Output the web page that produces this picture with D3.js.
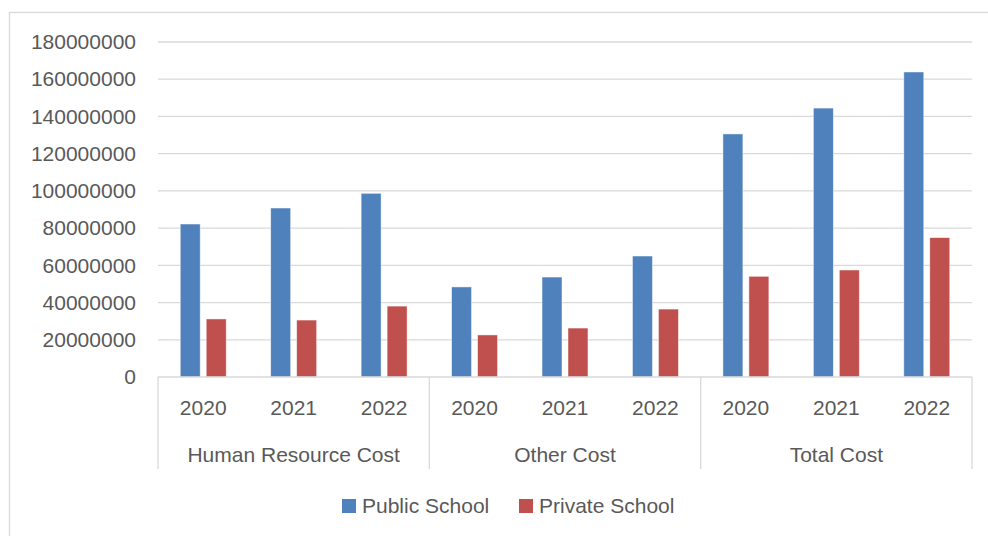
<!DOCTYPE html>
<html>
<head>
<meta charset="utf-8">
<script src="https://cdn.jsdelivr.net/npm/d3@7"></script>
<style>
  body { margin: 0; background: #fff; }
  svg { display: block; font-family: "Liberation Sans", Arial, sans-serif; }
</style>
</head>
<body>
<script>
const categories = ['Human Resource Cost', 'Other Cost', 'Total Cost'];
const years = ['2020', '2021', '2022'];
const seriesNames = ['Public School', 'Private School'];
const publicSchool = [82200000, 90800000, 98700000, 48400000, 53700000, 65000000, 130600000, 144500000, 163900000];
const privateSchool = [31200000, 30600000, 38100000, 22600000, 26300000, 36500000, 54100000, 57500000, 74900000];
const yTicks = [0, 20000000, 40000000, 60000000, 80000000, 100000000, 120000000, 140000000, 160000000, 180000000];

const colors = { 'Public School': '#4f81bd', 'Private School': '#c0504d' };
const textColor = '#595959';
const lineColor = '#d9d9d9';

const width = 988, height = 536;
const plotLeft = 158, plotRight = 972, plotTop = 42, plotBottom = 377;

const svg = d3.select('body').append('svg')
  .attr('width', width)
  .attr('height', height);

// chart frame
svg.append('rect')
  .attr('x', 9.5).attr('y', 12.5)
  .attr('width', width + 20).attr('height', height + 20)
  .attr('fill', 'none')
  .attr('stroke', lineColor)
  .attr('stroke-width', 1.3);

const x0 = d3.scaleBand().domain(categories).range([plotLeft, plotRight]);
const x1 = d3.scaleBand().domain(years).range([0, x0.bandwidth()]);
const x2 = d3.scaleBand().domain(seriesNames).range([0, x1.bandwidth()])
  .paddingInner(0.2308).paddingOuter(0.856);

const y = d3.scaleLinear().domain([0, 180000000]).range([plotBottom, plotTop]);

// gridlines
svg.append('g')
  .selectAll('line')
  .data(yTicks.filter(d => d > 0))
  .enter()
  .append('line')
  .attr('x1', plotLeft).attr('x2', plotRight)
  .attr('y1', d => y(d)).attr('y2', d => y(d))
  .attr('stroke', lineColor)
  .attr('stroke-width', 1.3);

// y labels
const yAxis = svg.append('g')
  .attr('transform', `translate(${plotLeft - 22},0)`)
  .call(d3.axisLeft(y).tickValues(yTicks).tickFormat(d3.format('d')).tickSize(0).tickPadding(0));
yAxis.select('.domain').remove();
yAxis.selectAll('text')
  .attr('fill', textColor)
  .style('font-size', '21px')
  .style('font-family', '"Liberation Sans", Arial, sans-serif');

// bars
const rows = [];
categories.forEach((c, ci) => {
  years.forEach((yr, yi) => {
    const i = ci * years.length + yi;
    rows.push({ cat: c, year: yr, series: 'Public School', value: publicSchool[i] });
    rows.push({ cat: c, year: yr, series: 'Private School', value: privateSchool[i] });
  });
});

svg.append('g')
  .selectAll('rect')
  .data(rows)
  .enter()
  .append('rect')
  .attr('x', d => x0(d.cat) + x1(d.year) + x2(d.series))
  .attr('width', x2.bandwidth())
  .attr('y', d => y(d.value))
  .attr('height', d => y(0) - y(d.value))
  .attr('fill', d => colors[d.series])
  .attr('stroke', '#fff')
  .attr('stroke-opacity', 0.6)
  .attr('stroke-width', 0.8);

// category axis
svg.append('line')
  .attr('x1', plotLeft).attr('x2', plotRight)
  .attr('y1', plotBottom).attr('y2', plotBottom)
  .attr('stroke', lineColor)
  .attr('stroke-width', 1.3);

const seps = categories.map(c => x0(c)).concat([plotRight]);
svg.append('g')
  .selectAll('line')
  .data(seps)
  .enter()
  .append('line')
  .attr('x1', d => d).attr('x2', d => d)
  .attr('y1', plotBottom).attr('y2', 469)
  .attr('stroke', lineColor)
  .attr('stroke-width', 1.3);

const yearLabels = [];
categories.forEach(c => years.forEach(yr => yearLabels.push({ cat: c, year: yr })));

svg.append('g')
  .selectAll('text')
  .data(yearLabels)
  .enter()
  .append('text')
  .attr('x', d => x0(d.cat) + x1(d.year) + x1.bandwidth() / 2)
  .attr('y', 415)
  .attr('text-anchor', 'middle')
  .attr('fill', textColor)
  .style('font-size', '21px')
  .text(d => d.year);

svg.append('g')
  .selectAll('text')
  .data(categories)
  .enter()
  .append('text')
  .attr('x', d => x0(d) + x0.bandwidth() / 2)
  .attr('y', 462)
  .attr('text-anchor', 'middle')
  .attr('fill', textColor)
  .style('font-size', '21px')
  .text(d => d);

// legend
const legendX = [342, 519];
const legend = svg.append('g')
  .selectAll('g')
  .data(seriesNames)
  .enter()
  .append('g')
  .attr('transform', (d, i) => `translate(${legendX[i]},499)`);

legend.append('rect')
  .attr('width', 14).attr('height', 14)
  .attr('fill', d => colors[d]);

legend.append('text')
  .attr('x', 20)
  .attr('y', 14)
  .attr('fill', textColor)
  .style('font-size', '21px')
  .text(d => d);
</script>
</body>
</html>
